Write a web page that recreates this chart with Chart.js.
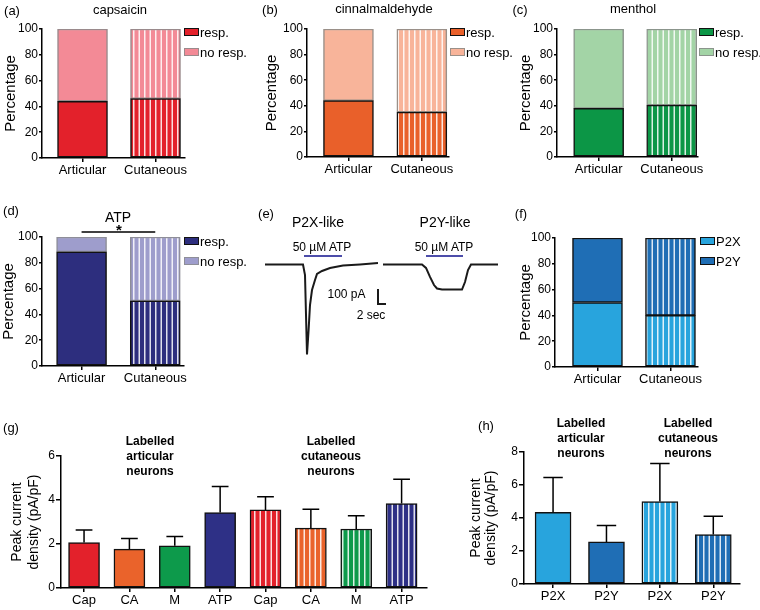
<!DOCTYPE html>
<html>
<head>
<meta charset="utf-8">
<script src="https://cdn.jsdelivr.net/npm/chart.js@4.4.1/dist/chart.umd.min.js"></script>
<style>
  html, body { margin: 0; padding: 0; background: #fff; }
  #fig { position: relative; width: 760px; height: 610px; overflow: hidden;
         font-family: "Liberation Sans", Arial, sans-serif; color: #000; }
  #fig canvas { position: absolute; }
  .t { position: absolute; white-space: nowrap; transform: translate(-50%, -50%); line-height: 1; font-size: 13px; }
  .box { position: absolute; width: 13px; height: 6px; border: 1px solid #000; }
</style>
</head>
<body>
<div id="fig"></div>
<script>
// --- data ---
const groups = ["Articular", "Cutaneous"];
const respLabels = ["resp.", "no resp."];
const pctTicks = [0, 20, 40, 60, 80, 100];

const capResp = [44, 46];
const capNoResp = [56, 54];
const cinResp = [44, 35];
const cinNoResp = [56, 65];
const menResp = [38, 40.5];
const menNoResp = [62, 59.5];
const atpResp = [88.5, 50.5];
const atpNoResp = [11.5, 49.5];
const atpSigPair = [1, 2];

const subtypeLabels = ["P2X", "P2Y"];
const p2xShare = [50, 40];
const p2yShare = [50, 60];

// (e) example traces: time in sec, current in pA (0 = holding baseline)
const p2xTraceT = [2.5, 12, 12.5, 13, 13.4, 13.75, 14.25, 15, 15.5, 16.75, 18.75, 22, 26.25, 30.75];
const p2xTraceI = [0, 0, -70, -600, -437, -270, -170, -103, -63, -43, -23, -7, 0, 10];
const p2yTraceT = [32, 41.75, 42.75, 43.75, 44.75, 45.5, 46.75, 51.75, 52.5, 53.25, 54, 60.75];
const p2yTraceI = [0, 0, -23, -83, -137, -160, -167, -167, -117, -37, 0, 0];
const atpAppT = [[12.25, 21.75], [42.75, 52]];
const atpAppI = 57;
const scaleBarT = [30.75, 30.75, 32.75];
const scaleBarI = [-163, -263, -263];

const agonists = ["Cap", "CA", "M", "ATP", "Cap", "CA", "M", "ATP"];
const peakMean = [2.07, 1.77, 1.92, 3.43, 3.55, 2.72, 2.68, 3.84];
const peakSem = [0.57, 0.48, 0.42, 1.18, 0.6, 0.86, 0.6, 1.1];
const peakTicks = [0, 2, 4, 6];

const p2Cats = ["P2X", "P2Y", "P2X", "P2Y"];
const p2Mean = [4.35, 2.55, 5.0, 3.0];
const p2Sem = [2.1, 1.0, 2.3, 1.1];
const p2Ticks = [0, 2, 4, 6, 8];

Chart.defaults.font.family = '"Liberation Sans", Arial, sans-serif';
Chart.defaults.color = "#000";

const fig = document.getElementById("fig");

function stripes(color) {
  const c = document.createElement("canvas");
  c.width = 11;
  c.height = 4;
  const g = c.getContext("2d");
  g.fillStyle = color;
  g.fillRect(0, 0, 11, 4);
  g.fillStyle = "rgba(255,255,255,0.85)";
  g.fillRect(1, 0, 1.5, 4);
  g.fillRect(6.5, 0, 1.5, 4);
  return g.createPattern(c, "repeat");
}

function text(str, x, y, style) {
  const d = document.createElement("div");
  d.className = "t";
  d.textContent = str;
  d.style.left = x + "px";
  d.style.top = y + "px";
  Object.assign(d.style, style || {});
  fig.appendChild(d);
}

function legend(names, fills, borders, x, y0) {
  names.forEach((n, i) => {
    const b = document.createElement("div");
    b.className = "box";
    b.style.left = x + "px";
    b.style.top = y0 + i * 20 + "px";
    b.style.background = fills[i];
    b.style.borderColor = borders[i];
    fig.appendChild(b);
    text(n, x + 16, y0 + i * 20 + 4, { transform: "translate(0,-50%)" });
  });
}

function canvasAt(cv) {
  const c = document.createElement("canvas");
  c.width = cv.w;
  c.height = cv.h;
  c.style.left = cv.x + "px";
  c.style.top = cv.y + "px";
  fig.appendChild(c);
  return c;
}

// GraphPad-style axes; the plot box is pinned to page pixels via padding + afterFit
function axes(cats, xr, yTicks, box, cv, o) {
  return {
    x: {
      type: "linear", min: xr[0], max: xr[1], offset: false, stacked: true,
      afterBuildTicks: (s) => { s.ticks = cats.map((_, i) => ({ value: i + 1 })); },
      afterFit: (s) => { s.height = cv.y + cv.h - box.bottom; },
      ticks: { callback: (v) => cats[v - 1], font: { size: o.catSize }, padding: 1, maxRotation: 0, autoSkip: false },
      grid: { drawOnChartArea: false, tickLength: o.xTick, color: "#000", lineWidth: 1.5, offset: false },
      border: { color: "#000", width: 1.5 },
    },
    y: {
      stacked: true, min: 0, max: yTicks[yTicks.length - 1],
      afterBuildTicks: (s) => { s.ticks = yTicks.map((v) => ({ value: v })); },
      afterFit: (s) => { s.width = box.axisX - cv.x; },
      ticks: { font: { size: 12 }, padding: 1 },
      grid: { drawOnChartArea: false, tickLength: o.yTick, color: "#000", lineWidth: 1.5 },
      border: { color: "#000", width: 1.5 },
      title: { display: true, text: o.yTitle, font: { size: o.titleSize, lineHeight: o.titleLH }, padding: { top: o.titlePad, bottom: 0 } },
    },
  };
}

function baseOptions(box, cv) {
  return {
    responsive: false,
    animation: false,
    devicePixelRatio: 1,
    layout: { padding: { left: 0, top: box.top - cv.y, right: cv.x + cv.w - box.right, bottom: 0 } },
    plugins: { legend: { display: false }, tooltip: { enabled: false } },
  };
}

const errorBars = {
  id: "errorBars",
  afterDatasetsDraw(chart) {
    const { ctx } = chart;
    const y = chart.scales.y;
    chart.data.datasets.forEach((ds, di) => {
      if (!ds.sem) return;
      const meta = chart.getDatasetMeta(di);
      ctx.save();
      ctx.strokeStyle = "#000";
      ctx.lineWidth = 1.5;
      meta.data.forEach((bar, i) => {
        const top = y.getPixelForValue(ds.data[i].y + ds.sem[i]);
        const cap = bar.width * 0.27;
        ctx.beginPath();
        ctx.moveTo(bar.x, bar.y);
        ctx.lineTo(bar.x, top);
        ctx.moveTo(bar.x - cap, top);
        ctx.lineTo(bar.x + cap, top);
        ctx.stroke();
      });
      ctx.restore();
    });
  },
};

const sigBar = {
  id: "sigBar",
  afterDraw(chart) {
    const { ctx, chartArea } = chart;
    const x = chart.scales.x;
    const yy = chartArea.top - 5;
    ctx.save();
    ctx.strokeStyle = "#000";
    ctx.lineWidth = 1.5;
    ctx.beginPath();
    ctx.moveTo(x.getPixelForValue(atpSigPair[0]), yy);
    ctx.lineTo(x.getPixelForValue(atpSigPair[1]), yy);
    ctx.stroke();
    ctx.restore();
  },
};

function stackPanel(p) {
  const c = canvasAt(p.cv);
  const mk = (vals) => vals.map((v, i) => ({ x: i + 1, y: v }));
  const opts = baseOptions(p.box, p.cv);
  opts.scales = axes(groups, p.xr, pctTicks, p.box, p.cv, {
    catSize: 13, xTick: 4, yTick: 3, yTitle: "Percentage", titleSize: 15, titleLH: 1.2, titlePad: p.titlePad,
  });
  new Chart(c, {
    type: "bar",
    data: {
      datasets: [
        { label: p.names[0], data: mk(p.lower), backgroundColor: [p.c1, stripes(p.c1)],
          borderColor: "#111", borderWidth: 1.5, borderSkipped: false, barThickness: 50 },
        { label: p.names[1], data: mk(p.upper), backgroundColor: [p.c2, stripes(p.c2)],
          borderColor: p.b2, borderWidth: 1.5, borderSkipped: false, barThickness: 50 },
      ],
    },
    options: opts,
    plugins: p.plugins || [],
  });
  legend(p.names, [p.c1, p.c2], ["#111", p.b2], p.legendX, p.legendY);
}

function meanPanel(p) {
  const c = canvasAt(p.cv);
  const opts = baseOptions(p.box, p.cv);
  opts.scales = axes(p.cats, p.xr, p.ticks, p.box, p.cv, {
    catSize: 13, xTick: 4, yTick: 5, yTitle: ["Peak current", "density (pA/pF)"], titleSize: 14, titleLH: p.titleLH, titlePad: p.titlePad,
  });
  new Chart(c, {
    type: "bar",
    data: {
      datasets: [{
        data: p.mean.map((v, i) => ({ x: i + 1, y: v })),
        sem: p.sem,
        backgroundColor: p.fills,
        borderColor: "#111", borderWidth: 1.5, borderSkipped: false, barThickness: p.bw,
      }],
    },
    options: opts,
    plugins: [errorBars],
  });
}

// --- (a) (b) (c) (d) (f) ---
stackPanel({ names: respLabels, lower: capResp, upper: capNoResp, c1: "#e3212b", c2: "#f38a96", b2: "#9a8a8c",
  cv: { x: 0, y: 10, w: 200, h: 180 }, box: { axisX: 42, top: 29, right: 185, bottom: 158 },
  xr: [0.445, 2.404], titlePad: 2, legendX: 184, legendY: 28 });
stackPanel({ names: respLabels, lower: cinResp, upper: cinNoResp, c1: "#e9602a", c2: "#f8b49a", b2: "#9a9089",
  cv: { x: 259, y: 10, w: 200, h: 180 }, box: { axisX: 307, top: 29, right: 449, bottom: 157 },
  xr: [0.435, 2.37], titlePad: 3.5, legendX: 450, legendY: 28 });
stackPanel({ names: respLabels, lower: menResp, upper: menNoResp, c1: "#0c9646", c2: "#a3d4a6", b2: "#8b958c",
  cv: { x: 513, y: 10, w: 195, h: 180 }, box: { axisX: 557, top: 29, right: 698, bottom: 157 },
  xr: [0.43, 2.36], titlePad: 3.5, legendX: 699, legendY: 28 });
stackPanel({ names: respLabels, lower: atpResp, upper: atpNoResp, c1: "#2d2e7e", c2: "#9e9dcc", b2: "#8e8e98",
  cv: { x: 0, y: 200, w: 200, h: 190 }, box: { axisX: 42, top: 237, right: 184, bottom: 366 },
  xr: [0.463, 2.39], titlePad: 0, legendX: 184, legendY: 237, plugins: [sigBar] });
stackPanel({ names: subtypeLabels, lower: p2xShare, upper: p2yShare, c1: "#28a4dd", c2: "#1f6eb5", b2: "#111",
  cv: { x: 513, y: 200, w: 195, h: 190 }, box: { axisX: 555, top: 238, right: 698, bottom: 367 },
  xr: [0.418, 2.377], titlePad: 3.5, legendX: 700, legendY: 237 });

// --- (e) traces ---
(() => {
  const cv = { x: 255, y: 240, w: 250, h: 130 };
  const c = canvasAt(cv);
  const pts = (t, i) => t.map((v, k) => ({ x: v, y: Array.isArray(i) ? i[k] : i }));
  const line = (data, color) => ({ data, borderColor: color, borderWidth: 2, pointRadius: 0, tension: 0, fill: false });
  new Chart(c, {
    type: "line",
    data: {
      datasets: [
        line(pts(p2xTraceT, p2xTraceI), "#1a1a1a"),
        line(pts(p2yTraceT, p2yTraceI), "#1a1a1a"),
        line(pts(atpAppT[0], atpAppI), "#4d4daa"),
        line(pts(atpAppT[1], atpAppI), "#4d4daa"),
        line(pts(scaleBarT, scaleBarI), "#1a1a1a"),
      ],
    },
    options: {
      responsive: false, animation: false, devicePixelRatio: 1,
      layout: { padding: 0 },
      plugins: { legend: { display: false }, tooltip: { enabled: false } },
      scales: {
        x: { type: "linear", min: 0, max: 62.5, display: false },
        y: { type: "linear", min: -703.3, max: 163.3, display: false },
      },
    },
  });
})();

// --- (g) (h) ---
const agonistColor = { Cap: "#e3212b", CA: "#ea632b", M: "#0d9a4b", ATP: "#2e3086" };
meanPanel({ cats: agonists, mean: peakMean, sem: peakSem, ticks: peakTicks,
  fills: agonists.map((a, i) => (i < 4 ? agonistColor[a] : stripes(agonistColor[a]))),
  cv: { x: 0, y: 420, w: 440, h: 190 }, box: { axisX: 61, top: 456, right: 427, bottom: 588 },
  xr: [0.492, 8.56], bw: 31, titleLH: 1.18, titlePad: 9.25 });
const subtypeColor = { P2X: "#28a4dd", P2Y: "#1f6eb5" };
meanPanel({ cats: p2Cats, mean: p2Mean, sem: p2Sem, ticks: p2Ticks,
  fills: p2Cats.map((a, i) => (i < 2 ? subtypeColor[a] : stripes(subtypeColor[a]))),
  cv: { x: 460, y: 420, w: 295, h: 190 }, box: { axisX: 524, top: 452, right: 740, bottom: 584 },
  xr: [0.456, 4.5], bw: 36, titleLH: 1.05, titlePad: 8.6 });

// --- panel letters, titles, annotations ---
text("(a)", 12, 10); text("capsaicin", 120, 9);
text("(b)", 270, 9); text("cinnalmaldehyde", 384, 8);
text("(c)", 520, 9); text("menthol", 633, 8);
text("(d)", 11, 210); text("ATP", 118, 217, { fontSize: "14px" }); text("*", 119, 229, { fontSize: "15px", fontWeight: "bold" });
text("(e)", 266, 213);
text("P2X-like", 318, 222, { fontSize: "14px" }); text("P2Y-like", 445, 222, { fontSize: "14px" });
text("50 µM ATP", 322, 247, { fontSize: "12px" }); text("50 µM ATP", 444, 247, { fontSize: "12px" });
text("100 pA", 346.5, 294, { fontSize: "12px" }); text("2 sec", 371, 314.5, { fontSize: "12px" });
text("(f)", 521, 213);
text("(g)", 11, 427); text("(h)", 486, 425);
const bold = { fontSize: "12px", fontWeight: "bold" };
[["Labelled", "articular", "neurons"], ["Labelled", "cutaneous", "neurons"]].forEach((lines, gi) => {
  lines.forEach((s, li) => {
    text(s, [150, 331][gi], 440.5 + li * 15.3, bold);
    text(s, [581, 688][gi], 423 + li * 15, bold);
  });
});
</script>
</body>
</html>
